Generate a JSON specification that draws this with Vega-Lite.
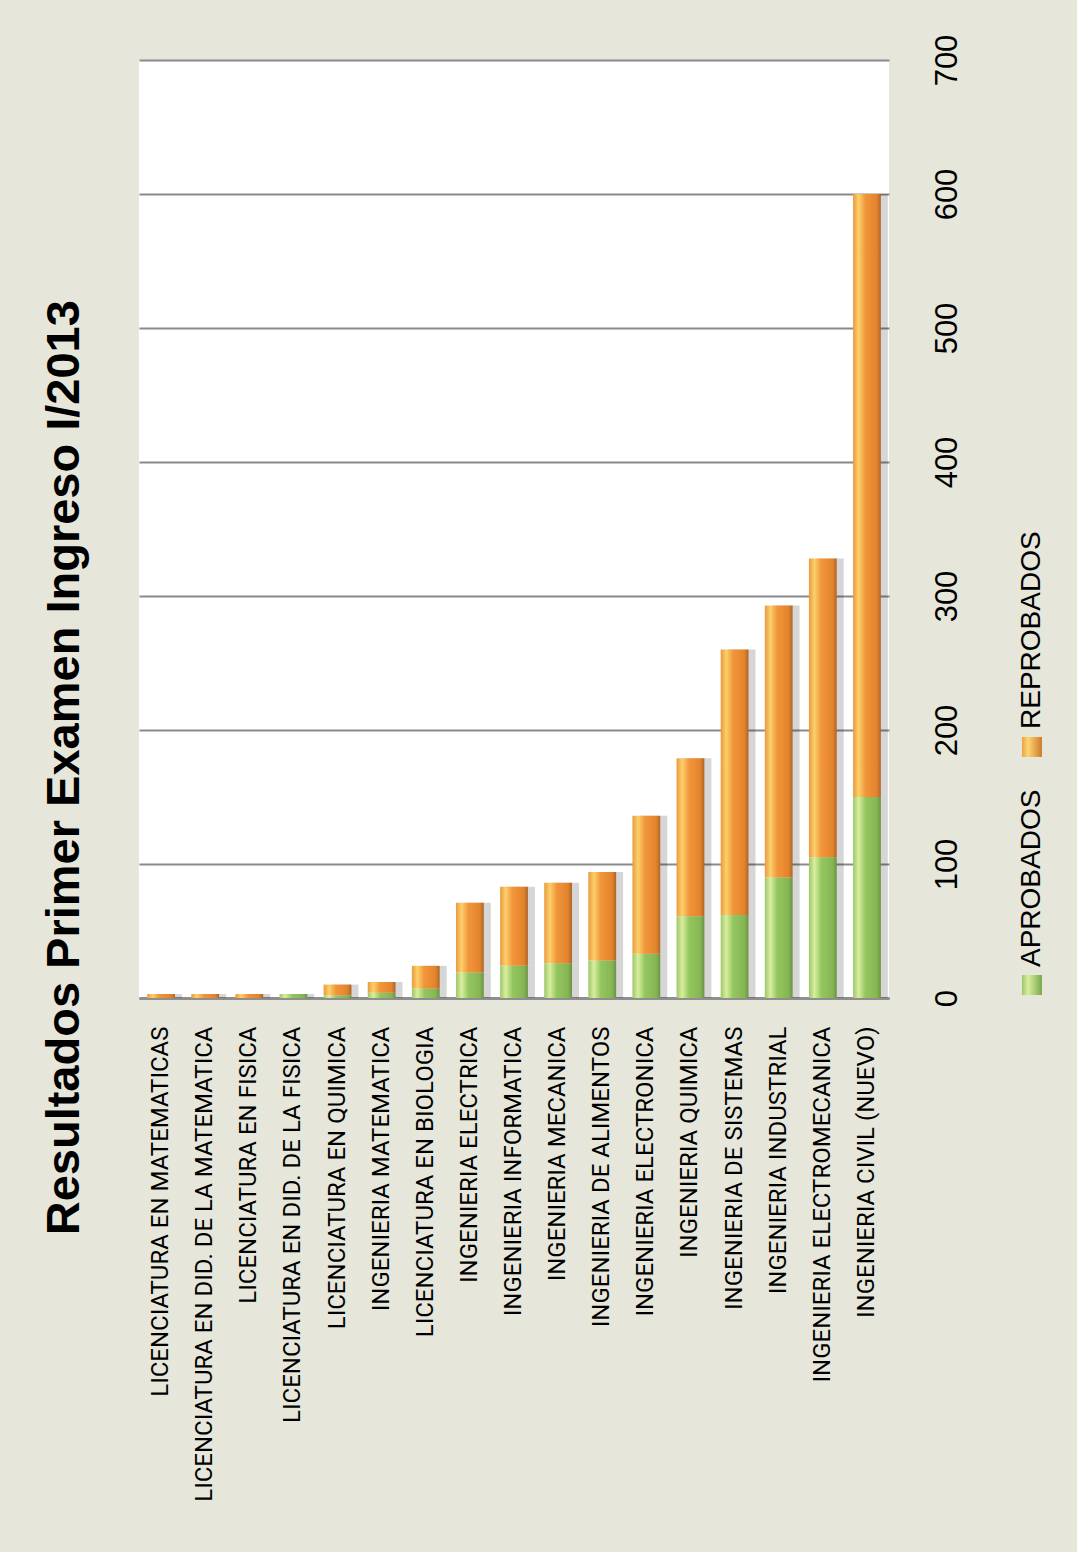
{
  "$schema": "https://vega.github.io/schema/vega-lite/v6.json",
  "background": "#e6e6da",
  "padding": {"left": 40, "top": 34, "right": 27, "bottom": 50},
  "title": {
    "text": "Resultados  Primer Examen Ingreso I/2013",
    "orient": "left",
    "anchor": "middle",
    "frame": "bounds",
    "font": "Liberation Sans",
    "fontWeight": "bold",
    "fontSize": 47,
    "color": "#000000",
    "offset": 50
  },
  "datasets": {
    "main": [
      {"carrera": "LICENCIATURA EN MATEMATICAS", "estado": "APROBADOS", "n": 0},
      {"carrera": "LICENCIATURA EN MATEMATICAS", "estado": "REPROBADOS", "n": 3},
      {"carrera": "LICENCIATURA EN DID. DE LA MATEMATICA", "estado": "APROBADOS", "n": 0},
      {"carrera": "LICENCIATURA EN DID. DE LA MATEMATICA", "estado": "REPROBADOS", "n": 3},
      {"carrera": "LICENCIATURA EN FISICA", "estado": "APROBADOS", "n": 0},
      {"carrera": "LICENCIATURA EN FISICA", "estado": "REPROBADOS", "n": 3},
      {"carrera": "LICENCIATURA EN DID. DE LA FISICA", "estado": "APROBADOS", "n": 3},
      {"carrera": "LICENCIATURA EN DID. DE LA FISICA", "estado": "REPROBADOS", "n": 0},
      {"carrera": "LICENCIATURA EN QUIMICA", "estado": "APROBADOS", "n": 2},
      {"carrera": "LICENCIATURA EN QUIMICA", "estado": "REPROBADOS", "n": 8},
      {"carrera": "INGENIERIA MATEMATICA", "estado": "APROBADOS", "n": 4},
      {"carrera": "INGENIERIA MATEMATICA", "estado": "REPROBADOS", "n": 8},
      {"carrera": "LICENCIATURA EN BIOLOGIA", "estado": "APROBADOS", "n": 7},
      {"carrera": "LICENCIATURA EN BIOLOGIA", "estado": "REPROBADOS", "n": 17},
      {"carrera": "INGENIERIA ELECTRICA", "estado": "APROBADOS", "n": 19},
      {"carrera": "INGENIERIA ELECTRICA", "estado": "REPROBADOS", "n": 52},
      {"carrera": "INGENIERIA INFORMATICA", "estado": "APROBADOS", "n": 24},
      {"carrera": "INGENIERIA INFORMATICA", "estado": "REPROBADOS", "n": 59},
      {"carrera": "INGENIERIA MECANICA", "estado": "APROBADOS", "n": 26},
      {"carrera": "INGENIERIA MECANICA", "estado": "REPROBADOS", "n": 60},
      {"carrera": "INGENIERIA DE ALIMENTOS", "estado": "APROBADOS", "n": 28},
      {"carrera": "INGENIERIA DE ALIMENTOS", "estado": "REPROBADOS", "n": 66},
      {"carrera": "INGENIERIA ELECTRONICA", "estado": "APROBADOS", "n": 33},
      {"carrera": "INGENIERIA ELECTRONICA", "estado": "REPROBADOS", "n": 103},
      {"carrera": "INGENIERIA QUIMICA", "estado": "APROBADOS", "n": 61},
      {"carrera": "INGENIERIA QUIMICA", "estado": "REPROBADOS", "n": 118},
      {"carrera": "INGENIERIA DE SISTEMAS", "estado": "APROBADOS", "n": 62},
      {"carrera": "INGENIERIA DE SISTEMAS", "estado": "REPROBADOS", "n": 198},
      {"carrera": "INGENIERIA INDUSTRIAL", "estado": "APROBADOS", "n": 90},
      {"carrera": "INGENIERIA INDUSTRIAL", "estado": "REPROBADOS", "n": 203},
      {"carrera": "INGENIERIA ELECTROMECANICA", "estado": "APROBADOS", "n": 105},
      {"carrera": "INGENIERIA ELECTROMECANICA", "estado": "REPROBADOS", "n": 223},
      {"carrera": "INGENIERIA CIVIL (NUEVO)", "estado": "APROBADOS", "n": 150},
      {"carrera": "INGENIERIA CIVIL (NUEVO)", "estado": "REPROBADOS", "n": 450}
    ],
    "legend": [
      {"estado": "REPROBADOS"},
      {"estado": "APROBADOS"}
    ]
  },
  "hconcat": [
    {
      "width": 750,
      "height": 938,
      "view": {"fill": "#ffffff", "stroke": null},
      "data": {"name": "main"},
      "encoding": {
        "x": {
          "field": "carrera",
          "type": "nominal",
          "sort": null,
          "scale": {"paddingInner": 0.37},
          "axis": {
            "title": null,
            "labelAngle": -90,
            "labelFont": "Roboto",
            "labelFontSize": 24,
            "labelColor": "#000000",
            "labelPadding": 28,
            "labelLimit": 800,
            "ticks": false,
            "domainColor": "#8e8e8e",
            "domainWidth": 3,
            "grid": false
          }
        },
        "y": {
          "field": "n",
          "type": "quantitative",
          "stack": "zero",
          "scale": {"domain": [0, 700], "nice": false},
          "axis": {
            "orient": "right",
            "title": null,
            "values": [0, 100, 200, 300, 400, 500, 600, 700],
            "labelAngle": -90,
            "labelAlign": "center",
            "labelBaseline": "top",
            "labelPadding": 43,
            "labelFont": "Liberation Sans",
            "labelFontSize": 31,
            "labelColor": "#000000",
            "ticks": false,
            "domain": false,
            "grid": true,
            "gridColor": "#8a8a8a",
            "gridWidth": 2
          }
        },
        "order": {"field": "estado", "sort": "ascending"},
        "detail": {"field": "estado", "type": "nominal"}
      },
      "layer": [
        {
          "mark": {"type": "bar", "xOffset": 7, "color": "#000000", "opacity": 0.16}
        },
        {
          "mark": {"type": "bar"},
          "encoding": {
            "fill": {
              "condition": {
                "test": "datum.estado === 'APROBADOS'",
                "value": {
                  "gradient": "linear", "x1": 0, "y1": 0, "x2": 1, "y2": 0,
                  "stops": [
                    {"offset": 0, "color": "#9cc669"},
                    {"offset": 0.2, "color": "#d9ee9e"},
                    {"offset": 0.45, "color": "#93c65f"},
                    {"offset": 0.85, "color": "#86b654"},
                    {"offset": 1, "color": "#6a9245"}
                  ]
                }
              },
              "value": {
                "gradient": "linear", "x1": 0, "y1": 0, "x2": 1, "y2": 0,
                "stops": [
                  {"offset": 0, "color": "#eb983f"},
                  {"offset": 0.2, "color": "#fbd06a"},
                  {"offset": 0.45, "color": "#f1953a"},
                  {"offset": 0.85, "color": "#e3842d"},
                  {"offset": 1, "color": "#ad6528"}
                ]
              }
            }
          }
        }
      ]
    },
    {
      "width": 40,
      "height": 938,
      "view": {"fill": null, "stroke": null},
      "data": {"name": "legend"},
      "encoding": {
        "y": {
          "field": "estado",
          "type": "nominal",
          "sort": null,
          "scale": {"type": "point", "padding": 0, "range": [687, 925]},
          "axis": null
        }
      },
      "layer": [
        {
          "mark": {"type": "square", "size": 400, "opacity": 1},
          "encoding": {
            "fill": {
              "condition": {
                "test": "datum.estado === 'APROBADOS'",
                "value": {
                  "gradient": "linear", "x1": 0, "y1": 0, "x2": 1, "y2": 0,
                  "stops": [
                    {"offset": 0, "color": "#9cc669"},
                    {"offset": 0.3, "color": "#d9ee9e"},
                    {"offset": 1, "color": "#7aa84e"}
                  ]
                }
              },
              "value": {
                "gradient": "linear", "x1": 0, "y1": 0, "x2": 1, "y2": 0,
                "stops": [
                  {"offset": 0, "color": "#eea046"},
                  {"offset": 0.3, "color": "#fbd671"},
                  {"offset": 1, "color": "#d07a2c"}
                ]
              }
            }
          }
        },
        {
          "mark": {
            "type": "text",
            "angle": 270,
            "align": "left",
            "baseline": "middle",
            "dx": 18,
            "font": "Liberation Sans",
            "fontSize": 28,
            "color": "#000000"
          },
          "encoding": {"text": {"field": "estado", "type": "nominal"}}
        }
      ]
    }
  ],
  "spacing": 50,
  "config": {"view": {"stroke": null}}
}
